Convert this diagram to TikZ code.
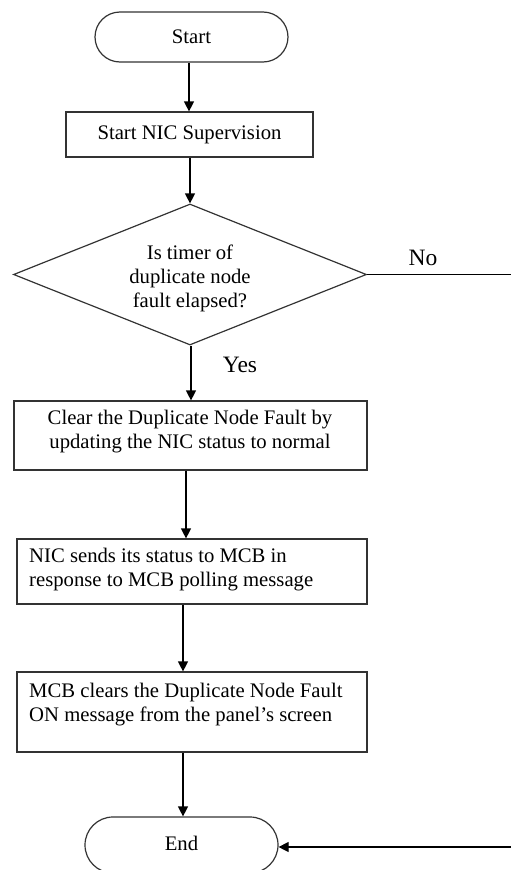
\documentclass[tikz,border=0pt]{standalone}
\usepackage{fontspec}
\setmainfont{Liberation Serif}
\usetikzlibrary{arrows.meta,shapes.geometric,calc}

\tikzset{
  outline/.style={draw=black!80, line width=1.2pt},
  terminal/.style={outline, rectangle, rounded corners=#1, minimum width=193pt, inner sep=0pt},
  stepbox/.style={outline, rectangle, inner sep=0pt},
  decision/.style={outline, diamond, aspect=2.5, minimum width=353pt, minimum height=141pt, inner sep=0pt},
  body/.style={font=\fontsize{20.7}{24}\selectfont, inner sep=0pt},
  branch/.style={font=\fontsize{23.5}{28}\selectfont, inner sep=0pt},
  flow/.style={line width=1.2pt, draw=black, -{Triangle[length=10pt,width=10pt]}},
  plain/.style={line width=1.2pt, draw=black}
}

\begin{document}
\begin{tikzpicture}[x=1pt,y=-1pt]
\useasboundingbox (0,0) rectangle (511,870);

% shapes
\node[terminal=25pt, minimum height=50pt] (start) at (191.5,37) {};
\node[stepbox, minimum width=247pt, minimum height=45pt] (sup) at (189.5,134.5) {};
\node[decision] (dec) at (190,274.5) {};
\node[stepbox, minimum width=353pt, minimum height=69pt] (b1) at (190.5,435.5) {};
\node[stepbox, minimum width=350pt, minimum height=65pt] (b2) at (192,571.5) {};
\node[stepbox, minimum width=350pt, minimum height=80pt] (b3) at (192,712) {};
\node[terminal=28pt, minimum height=56pt] (finish) at (181.5,845) {};

% texts
\node[body] (tstart) at (191.5,37) {Start};
\node[body] (tsup) at (189.5,134.5) {Start NIC Supervision};
\node[body, align=center] (tdec) at (190,278) {Is timer of\\duplicate node\\fault elapsed?};
\node[body, align=center] (tb1) at (190,431.5) {Clear the Duplicate Node Fault by\\updating the NIC status to normal};
\node[body, align=left, anchor=west] (tb2) at (29,569.5) {NIC sends its status to MCB in\\response to MCB polling message};
\node[body, align=left, anchor=west] (tb3) at (29,704.5) {MCB clears the Duplicate Node Fault\\ON message from the panel’s screen};
\node[body] (tend) at (181.5,843) {End};

% branch labels
\node[branch] (no) at (423,258) {No};
\node[branch] (yes) at (240,365) {Yes};

% free ends at the right margin
\coordinate (noR) at (511,274.5);
\coordinate (backR) at (511,847);

% connectors
\draw[flow] ([xshift=-2.5pt]start.south) -- ([xshift=-2.5pt]start.south |- sup.north);
\draw[flow] ([xshift=0.5pt]sup.south) -- (dec.90);
\draw[flow] ([xshift=1pt]dec.270) -- ([xshift=1pt]dec.270 |- b1.north);
\draw[flow] ([xshift=-4.5pt]b1.south) -- ([xshift=-4.5pt]b1.south |- b2.north);
\draw[flow] ([xshift=-9pt]b2.south) -- ([xshift=-9pt]b2.south |- b3.north);
\draw[flow] ([xshift=-9pt]b3.south) -- ([xshift=-9pt]b3.south |- finish.north);
\draw[plain] (dec.0) -- (noR);
\draw[flow] (backR) -- (backR -| finish.east);
\end{tikzpicture}
\end{document}
